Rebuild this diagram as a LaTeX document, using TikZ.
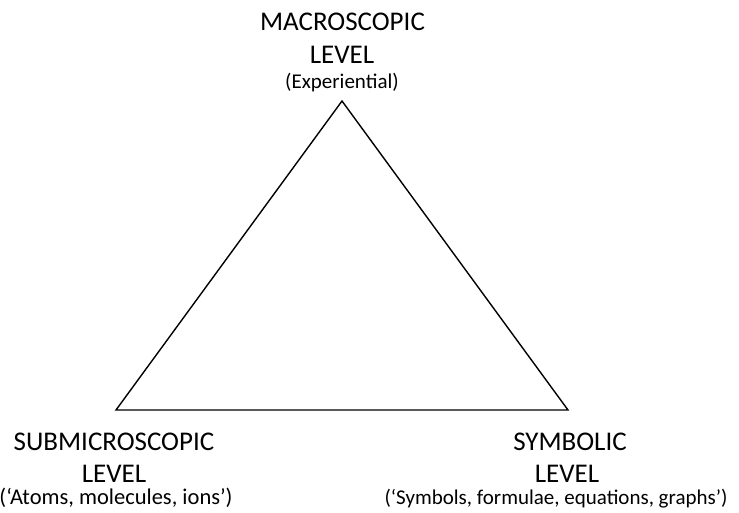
\documentclass[tikz,border=0pt]{standalone}
\usepackage{fontspec}
\setmainfont{Carlito}
\begin{document}
\begin{tikzpicture}[x=1pt,y=-1pt,
  bigtxt/.style={anchor=base,inner sep=0pt,font=\fontsize{27}{30}\selectfont},
  smalltxt/.style={anchor=base,inner sep=0pt,font=\fontsize{21}{24}\selectfont},
  edge/.style={line width=1.4pt,line join=miter}]
  \useasboundingbox (0,0) rectangle (739,512);
  % corners of the triangle
  \coordinate (top) at (342,101);
  \coordinate (left) at (116,410);
  \coordinate (right) at (568,410);
  \draw[edge] (top) -- (left) -- (right) -- cycle;
  % macroscopic corner
  \node[bigtxt] (macro) at (342.5,30) {MACROSCOPIC};
  \node[bigtxt] (macrolevel) at (342,63) {LEVEL};
  \node[smalltxt] (macronote) at (342,88) {(Experiential)};
  % submicroscopic corner
  \node[bigtxt] (sub) at (114,450) {SUBMICROSCOPIC};
  \node[bigtxt] (sublevel) at (114,482) {LEVEL};
  \node[smalltxt,font=\fontsize{22.5}{24}\selectfont] (subnote) at (116,504) {(‘Atoms, molecules, ions’)};
  % symbolic corner
  \node[bigtxt] (sym) at (570,450) {SYMBOLIC};
  \node[bigtxt] (symlevel) at (567,482) {LEVEL};
  \node[smalltxt] (symnote) at (556,504) {(‘Symbols, formulae, equations, graphs’)};
\end{tikzpicture}
\end{document}
